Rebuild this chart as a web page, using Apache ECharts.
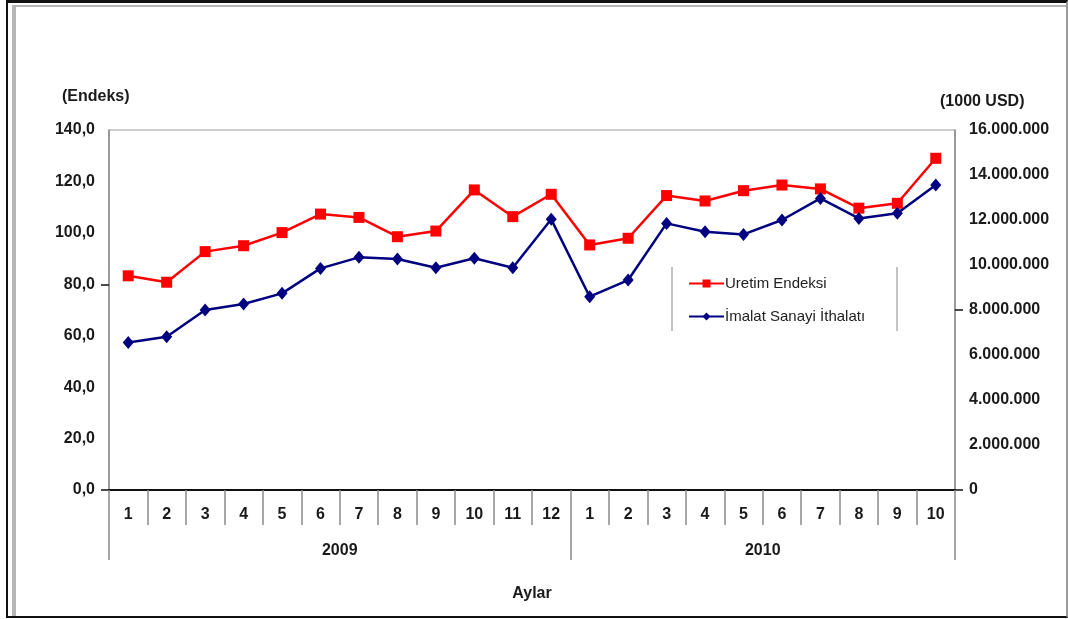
<!DOCTYPE html>
<html>
<head>
<meta charset="utf-8">
<script src="https://cdn.jsdelivr.net/npm/echarts@6/dist/echarts.min.js"></script>
<style>
  html, body { margin: 0; padding: 0; background: #fff; }
  #wrap { position: relative; width: 1068px; height: 619px; overflow: hidden; background: #fff; }
  #frame {
    position: absolute; left: 6px; top: 0; width: 1058px; height: 613px;
    border-left: 2px solid #111; border-top: 3px solid #111; border-bottom: 2px solid #111;
    border-right: 2px solid #9a9a9a;
  }
  #inner {
    position: absolute; left: 4px; top: 2px; right: 0; bottom: 0;
    border-left: 4px solid #b4b4b4; border-top: 2px solid #b4b4b4;
  }
  #chart { position: absolute; left: 0; top: 0; width: 1068px; height: 619px; }
</style>
</head>
<body>
<div id="wrap">
  <div id="frame"><div id="inner"></div></div>
  <div id="chart"></div>
</div>
<script>
// Months of 2009 (1-12) and 2010 (1-10)
const months = ['1','2','3','4','5','6','7','8','9','10','11','12','1','2','3','4','5','6','7','8','9','10'];
const years = ['2009', '2010'];

// Üretim endeksi (left axis, index)
const uretimEndeksi = [83.3, 80.8, 92.7, 95.0, 100.1, 107.3, 106.0, 98.5, 100.7, 116.7, 106.3, 115.0,
                       95.3, 97.9, 114.5, 112.4, 116.4, 118.6, 117.1, 109.6, 111.5, 129.0];

// İmalat sanayi ithalatı (right axis, 1000 USD)
const imalatIthalati = [6560000, 6810000, 8000000, 8270000, 8740000, 9850000, 10340000, 10270000, 9880000, 10300000, 9880000, 12030000,
                        8590000, 9330000, 11850000, 11480000, 11360000, 12000000, 12960000, 12070000, 12300000, 13560000];

const seriesNames = ['Uretim Endeksi', 'İmalat Sanayi İthalatı'];

const FONT = 'Liberation Sans, Arial, sans-serif';
const TXT = '#1a1a1a';
const FS = 16;

function commaDecimal(v) { return v.toFixed(1).replace('.', ','); }
function dotThousands(v) { return String(Math.round(v)).replace(/\B(?=(\d{3})+(?!\d))/g, '.'); }

const labelStyle = { fontFamily: FONT, fontSize: FS, fontWeight: 'bold', color: TXT };

const chart = echarts.init(document.getElementById('chart'), null, { renderer: 'canvas' });

chart.setOption({
  backgroundColor: 'transparent',
  animation: false,
  textStyle: { fontFamily: FONT },
  title: [
    { text: '(Endeks)', left: 57, top: 84, textStyle: labelStyle },
    { text: '(1000 USD)', left: 935, top: 89, textStyle: labelStyle }
  ],
  grid: { left: 109, right: 113, top: 130, bottom: 129, show: true, borderColor: '#9a9a9a', borderWidth: 1, backgroundColor: 'transparent' },
  legend: {
    orient: 'vertical', left: 683, top: 271, itemGap: 18, itemWidth: 35, itemHeight: 10,
    data: seriesNames,
    textStyle: { fontFamily: FONT, fontSize: 15, color: '#222', padding: [0, 0, 0, -4] }
  },
  graphic: [
    { type: 'line', shape: { x1: 672, y1: 267, x2: 672, y2: 331 }, style: { stroke: '#b0b0b0', lineWidth: 1.5 } },
    { type: 'line', shape: { x1: 897, y1: 267, x2: 897, y2: 331 }, style: { stroke: '#b0b0b0', lineWidth: 1.5 } }
  ],
  xAxis: [
    {
      type: 'category', data: months, boundaryGap: true, position: 'bottom',
      name: 'Aylar', nameLocation: 'middle', nameGap: 96,
      nameTextStyle: labelStyle,
      axisLine: { lineStyle: { color: '#111', width: 2 } },
      axisTick: { show: true, interval: 0, length: 35, lineStyle: { color: '#8a8a8a', width: 1.5 } },
      axisLabel: Object.assign({ interval: 0, margin: 17 }, labelStyle),
      splitLine: { show: false }
    },
    {
      type: 'value', min: 0, max: months.length, position: 'bottom',
      axisLine: { show: false },
      axisTick: { show: true, customValues: [0, 12, months.length], length: 70, lineStyle: { color: '#8a8a8a', width: 1.5 } },
      axisLabel: Object.assign({
        customValues: [6, 12 + (months.length - 12) / 2], margin: 53,
        formatter: v => (v < 12 ? years[0] : years[1])
      }, labelStyle),
      splitLine: { show: false }
    }
  ],
  yAxis: [
    {
      type: 'value', min: 0, max: 140, interval: 20, position: 'left',
      axisLine: { show: true, lineStyle: { color: '#8a8a8a', width: 1.5 } },
      axisTick: { show: true, customValues: [0, 80], length: 8, lineStyle: { color: '#111', width: 1.5 } },
      axisLabel: Object.assign({ margin: 14, formatter: commaDecimal }, labelStyle),
      splitLine: { show: false }
    },
    {
      type: 'value', min: 0, max: 16000000, interval: 2000000, position: 'right',
      axisLine: { show: true, lineStyle: { color: '#8a8a8a', width: 1.5 } },
      axisTick: { show: true, customValues: [0, 8000000], length: 8, lineStyle: { color: '#111', width: 1.5 } },
      axisLabel: Object.assign({ margin: 14, formatter: dotThousands }, labelStyle),
      splitLine: { show: false }
    }
  ],
  series: [
    {
      name: seriesNames[0], type: 'line', xAxisIndex: 0, yAxisIndex: 0, data: uretimEndeksi,
      symbol: 'rect', symbolSize: 11, showAllSymbol: true,
      lineStyle: { color: '#ff0000', width: 2.5 },
      itemStyle: { color: '#ff0000' }, z: 3
    },
    {
      name: seriesNames[1], type: 'line', xAxisIndex: 0, yAxisIndex: 1, data: imalatIthalati,
      symbol: 'diamond', symbolSize: [11, 13], showAllSymbol: true,
      lineStyle: { color: '#000080', width: 2.5 },
      itemStyle: { color: '#000080' }, z: 4
    }
  ]
});
</script>
</body>
</html>
